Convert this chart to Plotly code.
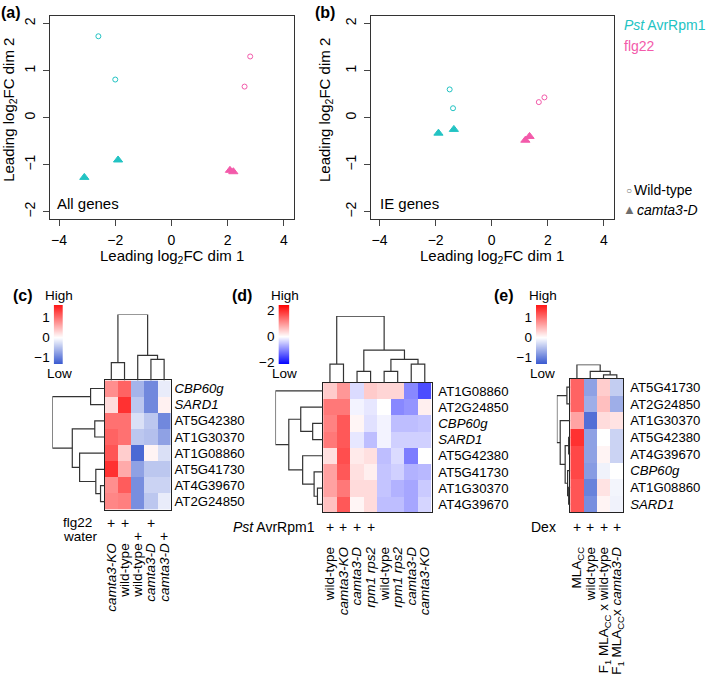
import numpy as np
import plotly.graph_objects as go

W, H = 709, 692
FONT = "Liberation Sans, Arial, sans-serif"
CYAN = "#22c3c3"
PINK = "#f35aaa"
GREY = "#6e6e6e"

# ---------------- scatter data (a) All genes ----------------
a_pst_wt_x = [-2.6, -2.0]
a_pst_wt_y = [1.73, 0.81]
a_flg_wt_x = [2.8, 2.6]
a_flg_wt_y = [1.30, 0.66]
a_pst_cd_x = [-3.1, -1.9]
a_pst_cd_y = [-1.27, -0.90]
a_flg_cd_x = [2.08, 2.2]
a_flg_cd_y = [-1.12, -1.15]

# ---------------- scatter data (b) IE genes ----------------
b_pst_wt_x = [-1.5, -1.38]
b_pst_wt_y = [0.60, 0.20]
b_flg_wt_x = [1.68, 1.88]
b_flg_wt_y = [0.33, 0.43]
b_pst_cd_x = [-1.9, -1.35]
b_pst_cd_y = [-0.33, -0.25]
b_flg_cd_x = [1.2, 1.35]
b_flg_cd_y = [-0.48, -0.40]

scatter_ticks = [-4, -2, 0, 2, 4]
scatter_yticks = [-2, -1, 0, 1, 2]

# ---------------- heatmap (c) ----------------
c_rows = ["<i>CBP60g</i>", "<i>SARD1</i>", "AT5G42380", "AT1G30370",
          "AT1G08860", "AT5G41730", "AT4G39670", "AT2G24850"]
c_cols = ["<i>camta3-KO</i>", "wild-type", "wild-type", "<i>camta3-D</i>", "<i>camta3-D</i>"]
c_flg22 = [1, 1, 0, 1, 0]
c_water = [0, 0, 1, 0, 1]
c_vals = [
    [0.80, 1.10, -0.60, -0.95, -0.15],
    [0.25, 1.45, -0.45, -0.95, 0.10],
    [1.00, 1.00, -0.25, -0.45, -0.95],
    [1.10, 1.00, -0.45, -0.50, -0.75],
    [1.20, 0.35, -1.20, 0.08, -0.25],
    [1.45, 0.60, -0.75, -0.45, -0.45],
    [0.80, 1.15, -0.90, -0.35, -0.35],
    [0.85, 0.90, -0.90, -0.45, -0.15],
]
c_col_merges = [(-1, -2), (-4, -5), (-3, 2), (1, 3)]
c_col_heights = [0.27, 0.32, 0.38, 1.0]
c_row_merges = [(-1, -2), (-3, -4), (-7, -8), (-6, 3), (-5, 4), (2, 5), (1, 6)]
c_row_heights = [0.27, 0.19, 0.08, 0.17, 0.48, 0.62, 1.0]
c_range = [-1.35, 1.65]
c_cbticks = [-1, 0, 1]

# ---------------- heatmap (d) ----------------
d_rows = ["AT1G08860", "AT2G24850", "<i>CBP60g</i>", "<i>SARD1</i>",
          "AT5G42380", "AT5G41730", "AT1G30370", "AT4G39670"]
d_cols = ["wild-type", "<i>camta3-KO</i>", "<i>camta3-D</i>", "<i>rpm1 rps2</i>",
          "wild-type", "<i>rpm1 rps2</i>", "<i>camta3-D</i>", "<i>camta3-KO</i>"]
d_pst = [1, 1, 1, 1, 0, 0, 0, 0]
d_vals = [
    [0.50, 1.00, -0.30, 0.50, 0.40, 0.40, -1.00, -1.50],
    [1.30, 1.30, -0.10, -0.20, 0.00, -1.00, -0.90, 0.15],
    [1.20, 1.60, 0.10, -0.25, -0.10, -0.55, -0.55, -0.50],
    [1.30, 1.60, -0.20, -0.55, -0.10, -0.40, -0.40, -0.40],
    [0.30, 1.70, 0.20, 0.30, -0.55, -0.30, -1.10, 0.00],
    [0.90, 1.60, 0.30, 0.15, -0.50, -0.40, -0.65, -0.60],
    [0.90, 1.30, 0.35, 0.35, -0.50, -0.65, -0.75, -0.45],
    [0.60, 1.60, 0.10, 0.35, -0.55, -0.55, -0.75, -0.35],
]
d_col_merges = [(-1, -2), (-3, -4), (-5, -6), (-7, -8), (3, 4), (2, 5), (1, 6)]
d_col_heights = [0.28, 0.17, 0.17, 0.28, 0.35, 0.49, 1.0]
d_row_merges = [(-3, -4), (-2, 1), (-7, -8), (-6, 3), (-5, 4), (2, 5), (-1, 6)]
d_row_heights = [0.22, 0.47, 0.12, 0.19, 0.43, 0.72, 1.0]
d_range = [-2.15, 2.45]
d_cbticks = [-2, 0, 2]

# ---------------- heatmap (e) ----------------
e_rows = ["AT5G41730", "AT2G24850", "AT1G30370", "AT5G42380",
          "AT4G39670", "<i>CBP60g</i>", "AT1G08860", "<i>SARD1</i>"]
e_cols = ["MLA<sub>CC</sub>", "wild-type", "F<sub>1</sub> MLA<sub>CC</sub> x wild-type",
          "F<sub>1</sub> MLA<sub>CC</sub>x <i>camta3-D</i>"]
e_dex = [1, 1, 1, 1]
e_vals = [
    [1.10, -0.75, 0.35, -0.40],
    [1.10, -0.65, 0.45, -0.65],
    [0.65, -1.15, 0.25, 0.20],
    [1.45, -0.75, 0.00, -0.35],
    [1.30, -0.75, 0.08, -0.35],
    [1.30, -0.80, -0.10, 0.00],
    [1.20, -1.00, 0.20, -0.08],
    [1.20, -0.90, 0.08, -0.10],
]
e_col_merges = [(-3, -4), (-2, 1), (-1, 2)]
e_col_heights = [0.28, 0.53, 1.0]
e_row_merges = [(-1, -2), (-4, -5), (-7, -8), (-6, 3), (2, 4), (-3, 5), (1, 6)]
e_row_heights = [0.25, 0.12, 0.12, 0.20, 0.38, 0.75, 1.0]
e_range = [-1.35, 1.65]
e_cbticks = [-1, 0, 1]


def xd(x0, x1):
    return [x0 / W, x1 / W]


def yd(y0, y1):
    return [1 - y1 / H, 1 - y0 / H]


def py(y):
    return 1 - y / H


def px(x):
    return x / W


def cscale(rng, low, high):
    z0 = -rng[0] / (rng[1] - rng[0])
    return [[0, low], [z0, "#ffffff"], [1, high]]


def dendro(merges, heights):
    pos = {}
    xs, ys = [], []
    for k, ((a, b), h) in enumerate(zip(merges, heights), start=1):
        def get(c):
            return (-c - 1, 0.0) if c < 0 else pos[c]
        pa, ha = get(a)
        pb, hb = get(b)
        xs += [pa, pa, pb, pb, None]
        ys += [ha, h, h, hb, None]
        pos[k] = ((pa + pb) / 2, h)
    return xs, ys


fig = go.Figure()
layout = dict(width=W, height=H, margin=dict(l=0, r=0, t=0, b=0),
              paper_bgcolor="white", plot_bgcolor="white",
              font=dict(family=FONT, size=13, color="black"), showlegend=False)
ann = []


def A(text, x, y, size=14, color="black", xanchor="center", yanchor="middle",
      xref="paper", **kw):
    ann.append(dict(text=text, x=x, y=y, xref=xref, yref="paper", showarrow=False,
                    xanchor=xanchor, yanchor=yanchor,
                    font=dict(size=size, color=color, family=FONT), **kw))


# ---------------- scatter panels ----------------
def scatter_panel(idx, xdom, d):
    xa = "x" if idx == 1 else f"x{idx}"
    ya = "y" if idx == 1 else f"y{idx}"
    (pwx, pwy, fwx, fwy, pcx, pcy, fcx, fcy) = d
    for xx, yy, col, sym, sz in [(pwx, pwy, CYAN, "circle-open", 5),
                                 (fwx, fwy, PINK, "circle-open", 5),
                                 (pcx, pcy, CYAN, "triangle-up", 8),
                                 (fcx, fcy, PINK, "triangle-up", 8)]:
        fig.add_trace(go.Scatter(x=xx, y=yy, mode="markers", xaxis=xa, yaxis=ya,
                                 marker=dict(symbol=sym, size=sz, color=col,
                                             line=dict(width=1, color=col))))
    kx = "xaxis" if idx == 1 else f"xaxis{idx}"
    ky = "yaxis" if idx == 1 else f"yaxis{idx}"
    layout[kx] = dict(domain=xd(*xdom), range=[-4.32, 4.37], anchor=ya,
                      tickvals=scatter_ticks, ticks="outside", ticklen=6,
                      showline=True, mirror=True, linecolor="#333", linewidth=1,
                      showgrid=False, zeroline=False, tickfont=dict(size=14),
                      ticklabelstandoff=2)
    layout[ky] = dict(domain=yd(14.7, 220), range=[-2.15, 2.17], anchor=xa,
                      tickvals=scatter_yticks, ticks="outside", ticklen=6,
                      showline=True, mirror=True, linecolor="#333", linewidth=1,
                      showgrid=False, zeroline=False, tickangle=-90,
                      tickfont=dict(size=14), ticklabelstandoff=2)


scatter_panel(1, (49.3, 295), (a_pst_wt_x, a_pst_wt_y, a_flg_wt_x, a_flg_wt_y,
                               a_pst_cd_x, a_pst_cd_y, a_flg_cd_x, a_flg_cd_y))
scatter_panel(2, (371.7, 616.7), (b_pst_wt_x, b_pst_wt_y, b_flg_wt_x, b_flg_wt_y,
                                  b_pst_cd_x, b_pst_cd_y, b_flg_cd_x, b_flg_cd_y))

for xc in [172, 494]:
    A("Leading log<sub>2</sub>FC dim 1", px(xc), py(258), size=15)
for xc in [9, 327]:
    A("Leading log<sub>2</sub>FC dim 2", px(xc), py(110), size=15, textangle=-90)
A("All genes", px(54), py(205), size=15, xanchor="left")
A("IE genes", px(379), py(205), size=15, xanchor="left")
A("<i>Pst</i> AvrRpm1", px(625), py(24), color=CYAN, xanchor="left")
A("flg22", px(625), py(45), color=PINK, xanchor="left")
A("○", px(632), py(191), size=10, color=GREY)
A("Wild-type", px(635), py(191), xanchor="left")
A("▲", px(632), py(211), size=13, color=GREY)
A("<i>camta3-D</i>", px(638), py(211), xanchor="left")

# panel letters
for t, x0, y0 in [("(a)", -2, 12), ("(b)", 314, 12), ("(c)", 10, 298),
                  ("(d)", 230, 298), ("(e)", 494, 298)]:
    A(f"<b>{t}</b>", px(x0), py(y0), size=16, xanchor="left")


# ---------------- heatmap panels ----------------
def heat_panel(base, vals, rows, cols, rng, low, high, cbticks,
               hx, hy, rdx, cdy, cbx, cby, col_m, col_h, row_m, row_h,
               rstand, cstand):
    n_r, n_c = len(rows), len(cols)
    cs = cscale(rng, low, high)
    hxa, hya = f"x{base}", f"y{base}"
    fig.add_trace(go.Heatmap(z=vals, x=list(range(n_c)), y=list(range(n_r)),
                             colorscale=cs, zmin=rng[0], zmax=rng[1], showscale=False,
                             xaxis=hxa, yaxis=hya, hoverinfo="z"))
    layout[f"xaxis{base}"] = dict(domain=xd(*hx), range=[-0.5, n_c - 0.5], anchor=hya,
                                  tickvals=list(range(n_c)), ticktext=cols, tickangle=-90,
                                  ticks="", showline=True, mirror=True, linecolor="#222",
                                  linewidth=1.3, showgrid=False, zeroline=False,
                                  ticklabelstandoff=cstand, tickfont=dict(size=13.5))
    layout[f"yaxis{base}"] = dict(domain=yd(*hy), range=[n_r - 0.5, -0.5], anchor=hxa,
                                  side="right", tickvals=list(range(n_r)), ticktext=rows,
                                  ticks="", showline=True, mirror=True, linecolor="#222",
                                  linewidth=1.3, showgrid=False, zeroline=False,
                                  ticklabelstandoff=rstand, tickfont=dict(size=13.2))
    # column dendrogram
    b = base + 1
    xs, ys = dendro(col_m, col_h)
    fig.add_trace(go.Scatter(x=xs, y=ys, mode="lines", xaxis=f"x{b}", yaxis=f"y{b}",
                             line=dict(color="#333", width=1.2), hoverinfo="skip"))
    layout[f"xaxis{b}"] = dict(domain=xd(*hx), range=[-0.5, n_c - 0.5], anchor=f"y{b}",
                               visible=False)
    layout[f"yaxis{b}"] = dict(domain=yd(*cdy), range=[0, 1.0], anchor=f"x{b}",
                               visible=False)
    # row dendrogram
    b = base + 2
    xs, ys = dendro(row_m, row_h)
    fig.add_trace(go.Scatter(x=ys, y=xs, mode="lines", xaxis=f"x{b}", yaxis=f"y{b}",
                             line=dict(color="#333", width=1.2), hoverinfo="skip"))
    layout[f"xaxis{b}"] = dict(domain=xd(*rdx), range=[1.0, 0], anchor=f"y{b}",
                               visible=False)
    layout[f"yaxis{b}"] = dict(domain=yd(*hy), range=[n_r - 0.5, -0.5], anchor=f"x{b}",
                               visible=False)
    # colour key
    b = base + 3
    key = np.linspace(rng[0], rng[1], 120)
    fig.add_trace(go.Heatmap(z=[[v] for v in key], y=key, x=[0], colorscale=cs,
                             zmin=rng[0], zmax=rng[1], showscale=False,
                             xaxis=f"x{b}", yaxis=f"y{b}", hoverinfo="skip"))
    layout[f"xaxis{b}"] = dict(domain=xd(*cbx), range=[-0.5, 0.5], anchor=f"y{b}",
                               visible=False)
    layout[f"yaxis{b}"] = dict(domain=yd(*cby), range=[rng[0], rng[1]], anchor=f"x{b}",
                               tickvals=cbticks, ticks="", showline=False,
                               showgrid=False, zeroline=False, ticklabelstandoff=3,
                               tickfont=dict(size=13.5))
    cxc = (cbx[0] + cbx[1]) / 2 + 1
    A("High", px(cxc), py(298), size=13.5)
    A("Low", px(cxc), py(376), size=13.5)
    return hxa


BLUE_SOFT = "#3556cf"
RED = "#ff1515"

heat_panel(3, c_vals, c_rows, c_cols, c_range, BLUE_SOFT, RED, c_cbticks,
           (104.3, 170.7), (383.3, 514), (51.7, 104.3), (316.7, 383.3),
           (53, 62.5), (307, 366.7), c_col_merges, c_col_heights,
           c_row_merges, c_row_heights, 0, 27)
heat_panel(7, d_vals, d_rows, d_cols, d_range, "#0000ff", "#ff0000", d_cbticks,
           (324, 433), (385.7, 516.7), (276, 324), (318.3, 385.7),
           (279, 290), (307, 366.7), d_col_merges, d_col_heights,
           d_row_merges, d_row_heights, 3, 28)
heat_panel(11, e_vals, e_rows, e_cols, e_range, BLUE_SOFT, RED, e_cbticks,
           (572.5, 626), (381.7, 516.7), (559, 572.5), (367.3, 381.7),
           (538, 549.5), (307, 366.7), e_col_merges, e_col_heights,
           e_row_merges, e_row_heights, 3, 28)


# treatment rows
def plus_row(xref, flags, ypx):
    for i, f in enumerate(flags):
        if f:
            A("+", i, py(ypx), xref=xref)


plus_row("x3", c_flg22, 527)
plus_row("x3", c_water, 540)
plus_row("x7", d_pst, 531)
plus_row("x11", e_dex, 531)
A("flg22", px(60), py(526.5), size=13.5, xanchor="left")
A("water", px(60), py(541), size=13.5, xanchor="left")
A("<i>Pst</i> AvrRpm1", px(318), py(531), xanchor="right")
A("Dex", px(560), py(531), xanchor="right")

layout["annotations"] = ann
fig.update_layout(**layout)
fig.write_html("out.html", config={"displayModeBar": False},
               post_script="document.body.style.margin='0px';document.body.style.padding='0px';")
